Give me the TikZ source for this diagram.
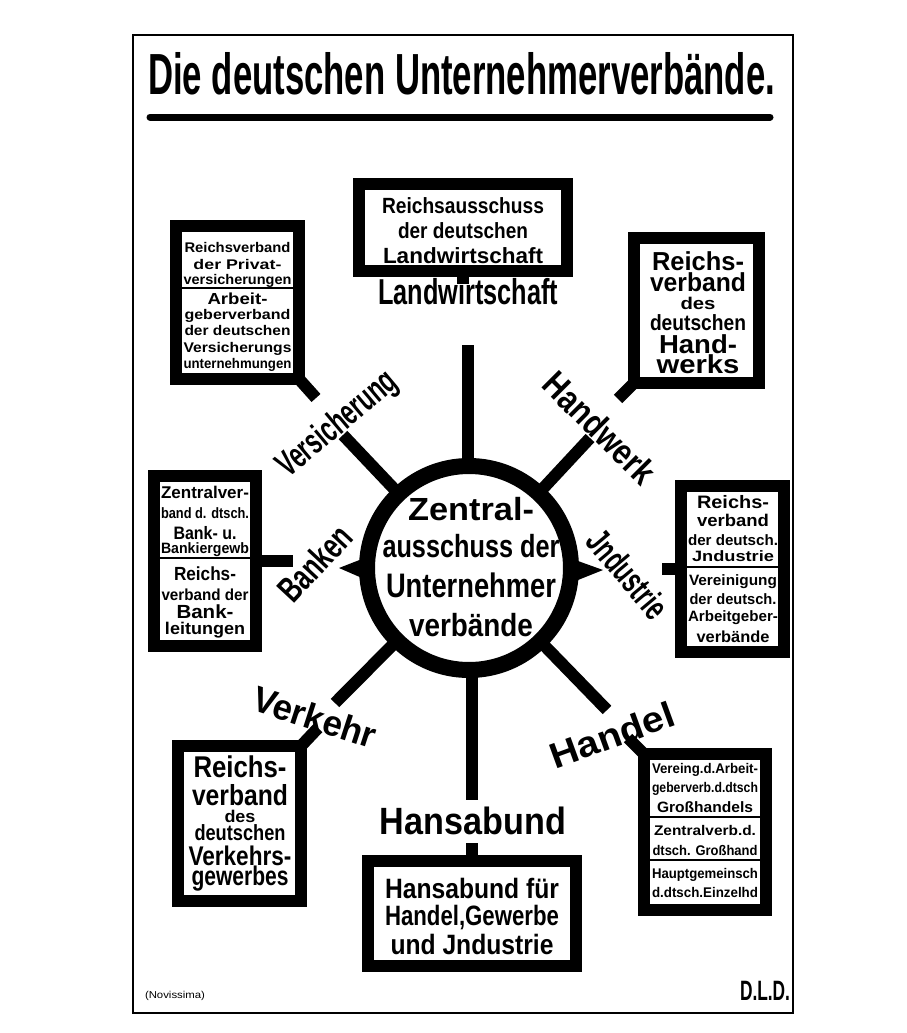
\documentclass[tikz,border=0pt]{standalone}
\usepackage{fontspec}
\setmainfont{Liberation Sans}
\usepackage{graphicx}
\newcommand\fitw[2]{\resizebox{#1pt}{\height}{#2}}
\begin{document}
\begin{tikzpicture}[x=1pt,y=-1pt,
  obox/.style={draw=black,line width=12pt,fill=white,inner sep=0pt,outer sep=0pt},
  tl/.style={anchor=base,inner sep=0pt,outer sep=0pt},
  lab/.style={inner sep=0pt,outer sep=0pt,font=\fontsize{36}{36}\selectfont\bfseries},
  spoke/.style={line width=12pt},
  divline/.style={line width=1.6pt}]
\fill[white] (0,0) rectangle (907,1033);
\useasboundingbox (0,0) rectangle (907,1033);
% frame
\draw[line width=2pt] (133,35) rectangle (793,1013);
% title
\node[anchor=base west,inner sep=0pt,font=\fontsize{58}{58}\selectfont\bfseries] (title) at (148,94) {\fitw{627}{Die deutschen Unternehmerverbände.}};
\draw[line width=7pt,line cap=round] (150,117) -- (770,117);
% spokes
\coordinate (c) at (469,568);
\coordinate (sN) at (468,345);
\coordinate (sS) at (472,800);
\coordinate (sNW) at (343,435);
\coordinate (sNE) at (590,438);
\coordinate (sSW) at (335,703);
\coordinate (sSE) at (607,710);
\draw[spoke] (sN |- c) -- (sN);
\draw[spoke] (sS |- c) -- (sS);
\draw[spoke] (c) -- (sNW);
\draw[spoke] (c) -- (sNE);
\draw[spoke] (c) -- (sSW);
\draw[spoke] (c) -- (sSE);
\coordinate (wW) at (339,568);
\coordinate (wE) at (603,570);
\fill (wW) -- (362,559) -- (362,578) -- cycle;
\fill (wE) -- (578,561) -- (578,580) -- cycle;
% centre
\node[circle,draw=black,line width=16pt,fill=white,minimum size=204pt,inner sep=0pt] (cen) at (c) {};
\foreach \t/\y/\w/\s [count=\i] in {{Zentral-}/520/126/32,{ausschuss der}/557/177/32,{Unternehmer}/597/170/34,{verbände}/636/124/32}
  \node[tl,font=\fontsize{\s}{\s}\selectfont\bfseries] (ct\i) at (471,\y) {\fitw{\w}{\t}};
% boxes
\node[obox,minimum width=123pt,minimum height=153pt] (vers) at (237.5,302.5) {};
\node[obox,minimum width=208pt,minimum height=87pt] (land) at (463,227.5) {};
\node[obox,minimum width=125pt,minimum height=145pt] (handw) at (696.5,310.5) {};
\node[obox,minimum width=102pt,minimum height=170pt] (bank) at (205,561) {};
\node[obox,minimum width=103pt,minimum height=166pt] (ind) at (732.5,569) {};
\node[obox,minimum width=123pt,minimum height=155pt] (verk) at (239.5,823.5) {};
\node[obox,minimum width=208pt,minimum height=105pt] (hansa) at (472,913.5) {};
\node[obox,minimum width=122pt,minimum height=156pt] (handel) at (705,832) {};
% box texts
\foreach \t/\y/\w/\s [count=\i] in {{Reichsverband}/252/106/14,{der Privat-}/269/88/14,{versicherungen}/284/108/14,{Arbeit-}/304/60/16,{geberverband}/319/106/14,{der deutschen}/335/106/14,{Versicherungs}/352/108/14,{unternehmungen}/368/108/14}
  \node[tl,font=\fontsize{\s}{\s}\selectfont\bfseries] (vt\i) at (237.5,\y) {\fitw{\w}{\t}};
\foreach \t/\y/\w/\s [count=\i] in {{Reichsausschuss}/213/162/22,{der deutschen}/238/130/22,{Landwirtschaft}/263/160/22}
  \node[tl,font=\fontsize{\s}{\s}\selectfont\bfseries] (lt\i) at (463,\y) {\fitw{\w}{\t}};
\foreach \t/\y/\w/\s [count=\i] in {{Reichs-}/270/92/26,{verband}/291/96/26,{des}/309/35/17,{deutschen}/330/96/22,{Hand-}/353/78/26,{werks}/373/83/26}
  \node[tl,font=\fontsize{\s}{\s}\selectfont\bfseries] (ht\i) at (698,\y) {\fitw{\w}{\t}};
\foreach \t/\y/\w/\s [count=\i] in {{Zentralver-}/498/88/17,{band d. dtsch.}/518/88/15,{Bank- u.}/539/63/18,{Bankiergewb}/553/88/15,{Reichs-}/580/62/19,{verband der}/600/87/16,{Bank-}/618/57/19,{leitungen}/634/80/17}
  \node[tl,font=\fontsize{\s}{\s}\selectfont\bfseries] (bt\i) at (205,\y) {\fitw{\w}{\t}};
\foreach \t/\y/\w/\s [count=\i] in {{Reichs-}/508/72/18,{verband}/526/72/17,{der deutsch.}/545/90/15,{Jndustrie}/561/82/15,{Vereinigung}/585/88/15,{der deutsch.}/604/87/15,{Arbeitgeber-}/621/90/15,{verbände}/642/73/16}
  \node[tl,font=\fontsize{\s}{\s}\selectfont\bfseries] (it\i) at (733,\y) {\fitw{\w}{\t}};
\foreach \t/\y/\w/\s [count=\i] in {{Reichs-}/777/93/30,{verband}/805/96/29,{des}/822/31/17,{deutschen}/840/91/22,{Verkehrs-}/865/103/27,{gewerbes}/885/97/27}
  \node[tl,font=\fontsize{\s}{\s}\selectfont\bfseries] (kt\i) at (240,\y) {\fitw{\w}{\t}};
\foreach \t/\y/\w/\s [count=\i] in {{Hansabund für}/898/174/28,{Handel,Gewerbe}/925/174/28,{und Jndustrie}/954/163/28}
  \node[tl,font=\fontsize{\s}{\s}\selectfont\bfseries] (st\i) at (472,\y) {\fitw{\w}{\t}};
\foreach \t/\y/\w/\s [count=\i] in {{Vereing.d.Arbeit-}/773/106/14,{geberverb.d.dtsch}/792/106/14,{Großhandels}/812/96/15,{Zentralverb.d.}/835/102/14,{dtsch. Großhand}/855/105/14,{Hauptgemeinsch}/878/106/14,{d.dtsch.Einzelhd}/897/106/14}
  \node[tl,font=\fontsize{\s}{\s}\selectfont\bfseries] (dt\i) at (705,\y) {\fitw{\w}{\t}};
% dividers
\draw[divline] (vers.west |- 0,288) -- (vers.east |- 0,288);
\draw[divline] (bank.west |- 0,558) -- (bank.east |- 0,558);
\draw[divline] (ind.west |- 0,567) -- (ind.east |- 0,567);
\draw[divline] (handel.west |- 0,817) -- (handel.east |- 0,817);
\draw[divline] (handel.west |- 0,860) -- (handel.east |- 0,860);
% stubs
\coordinate (vst) at (316,398);
\coordinate (lst) at (463,284);
\coordinate (hwst) at (618,399);
\coordinate (bst) at (293,561);
\coordinate (ist) at (662,569);
\coordinate (vkst) at (318,728);
\coordinate (hsst) at (472,843);
\coordinate (hdst) at (628,738);
\draw[spoke] (vers.south east) -- (vst);
\draw[spoke] (land.south) -- (lst);
\draw[spoke] (handw.south west) -- (hwst);
\draw[spoke] (bank.east) -- (bst);
\draw[spoke] (ind.west) -- (ist);
\draw[spoke] (verk.north east) -- (vkst);
\draw[spoke] (hansa.north) -- (hsst);
\draw[spoke] (handel.north west) -- (hdst);
% labels
\node[lab] (lland) at (468,292) {\fitw{180}{Landwirtschaft}};
\node[lab,font=\fontsize{38}{38}\selectfont\bfseries] (lhansa) at (473,821) {\fitw{186}{Hansabund}};
\node[lab,rotate=40] (lvers) at (338,425) {\fitw{145}{Versicherung}};
\node[lab,rotate=-45] (lhandw) at (600,428) {\fitw{142}{Handwerk}};
\node[lab,rotate=47] (lbank) at (315,563) {\fitw{90}{Banken}};
\node[lab,rotate=-50] (lind) at (628,574) {\fitw{104}{Jndustrie}};
\node[lab,rotate=-18] (lverk) at (315,717) {\fitw{128}{Verkehr}};
\node[lab,rotate=20] (lhandel) at (612,735) {\fitw{130}{Handel}};
% footer
\node[inner sep=0pt,font=\fontsize{10}{10}\selectfont] (nov) at (175,996) {\fitw{60}{(Novissima)}};
\node[inner sep=0pt,font=\fontsize{28}{28}\selectfont\bfseries] (dld) at (765,991) {\fitw{50}{D.L.D.}};
\end{tikzpicture}
\end{document}
